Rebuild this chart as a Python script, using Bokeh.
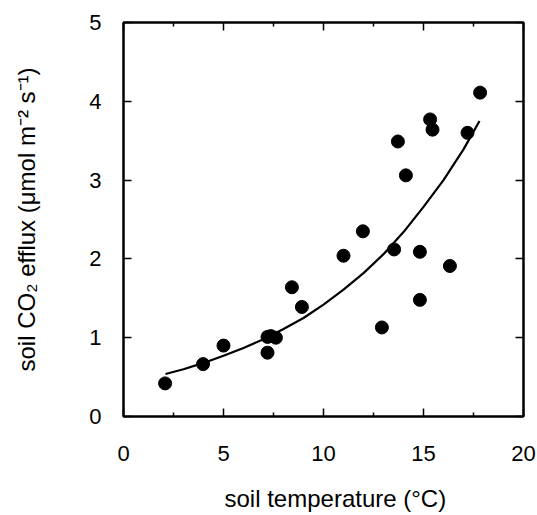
from bokeh.plotting import figure
from bokeh.models import FixedTicker, LinearAxis, Range1d, Title, CustomJSTickFormatter
from bokeh.embed import file_html
from bokeh.resources import INLINE

# measured soil temperature (°C) and soil CO2 efflux (µmol m-2 s-1)
temp = [2.08, 3.98, 5.0, 7.2, 7.37, 7.62, 7.2, 8.42, 8.92, 11.0, 11.97,
        12.92, 13.53, 13.72, 14.12, 14.82, 14.82, 15.33, 15.45, 16.32, 17.2, 17.83]
efflux = [0.42, 0.665, 0.90, 1.01, 1.02, 1.00, 0.81, 1.64, 1.39, 2.04, 2.35,
          1.13, 2.12, 3.49, 3.06, 2.09, 1.48, 3.77, 3.64, 1.91, 3.60, 4.11]

# fitted curve
fit_temp = [2.1, 3, 4, 5, 6, 7, 8, 9, 10, 11, 12, 13, 14, 15, 16, 17, 17.8]
fit_efflux = [0.54, 0.60, 0.68, 0.77, 0.87, 0.98, 1.11, 1.25, 1.42, 1.61, 1.82,
              2.06, 2.34, 2.66, 3.0, 3.39, 3.75]

x_ticks = [0, 5, 10, 15, 20]
x_minor = [2.5, 7.5, 12.5, 17.5]
y_ticks = [0, 1, 2, 3, 4, 5]

x_title = "soil temperature (°C)"
y_title = "soil CO₂ efflux (μmol m⁻² s⁻¹)"

FONT = "Liberation Sans"

p = figure(width=537, height=515, output_backend="svg", toolbar_location=None,
           x_range=Range1d(0, 20), y_range=Range1d(0, 5),
           min_border_left=123, min_border_right=14, min_border_top=22,
           min_border_bottom=99)
p.grid.visible = False
p.outline_line_color = "black"
p.outline_line_width = 2
p.background_fill_color = "white"
p.border_fill_color = "white"

xa = p.xaxis[0]
xa.ticker = FixedTicker(ticks=x_ticks, minor_ticks=x_minor)
ya = p.yaxis[0]
ya.ticker = FixedTicker(ticks=y_ticks, minor_ticks=[])

for ax in (xa, ya):
    ax.major_tick_in = 8
    ax.major_tick_out = 0
    ax.minor_tick_in = 4
    ax.minor_tick_out = 0
    ax.axis_line_color = "black"
    ax.axis_line_width = 2
    ax.major_tick_line_width = 1.5
    ax.minor_tick_line_width = 1.5
    ax.major_label_text_font = FONT
    ax.major_label_text_font_size = "22px"
    ax.major_label_text_color = "black"

xa.major_label_standoff = 29
ya.major_label_standoff = 22

ya.axis_label = y_title
ya.axis_label_text_font = FONT
ya.axis_label_text_font_size = "24px"
ya.axis_label_text_font_style = "normal"
ya.axis_label_text_color = "black"
ya.axis_label_standoff = 46

# top and right axes: inward ticks only
blank = CustomJSTickFormatter(code="return ''")
top = LinearAxis(ticker=FixedTicker(ticks=x_ticks, minor_ticks=x_minor), formatter=blank)
right = LinearAxis(ticker=FixedTicker(ticks=y_ticks, minor_ticks=[]), formatter=blank)
for ax in (top, right):
    ax.major_tick_in = 8
    ax.major_tick_out = 0
    ax.minor_tick_in = 4
    ax.minor_tick_out = 0
    ax.axis_line_color = "black"
    ax.axis_line_width = 2
    ax.major_tick_line_width = 1.5
    ax.minor_tick_line_width = 1.5
    ax.major_label_text_font_size = "1px"
    ax.major_label_standoff = 0
p.add_layout(top, "above")
p.add_layout(right, "right")

p.line(fit_temp, fit_efflux, line_color="black", line_width=2.2)
p.scatter(temp, efflux, size=13, fill_color="black", line_color="black")

p.add_layout(Title(text=x_title, align="left", offset=101, text_font=FONT,
                   text_font_size="24px", text_font_style="normal",
                   text_color="black", standoff=0,
                   padding=dict(top=19, bottom=0, left=0, right=0)), "below")

open("out.html", "w").write(file_html(p, INLINE))
